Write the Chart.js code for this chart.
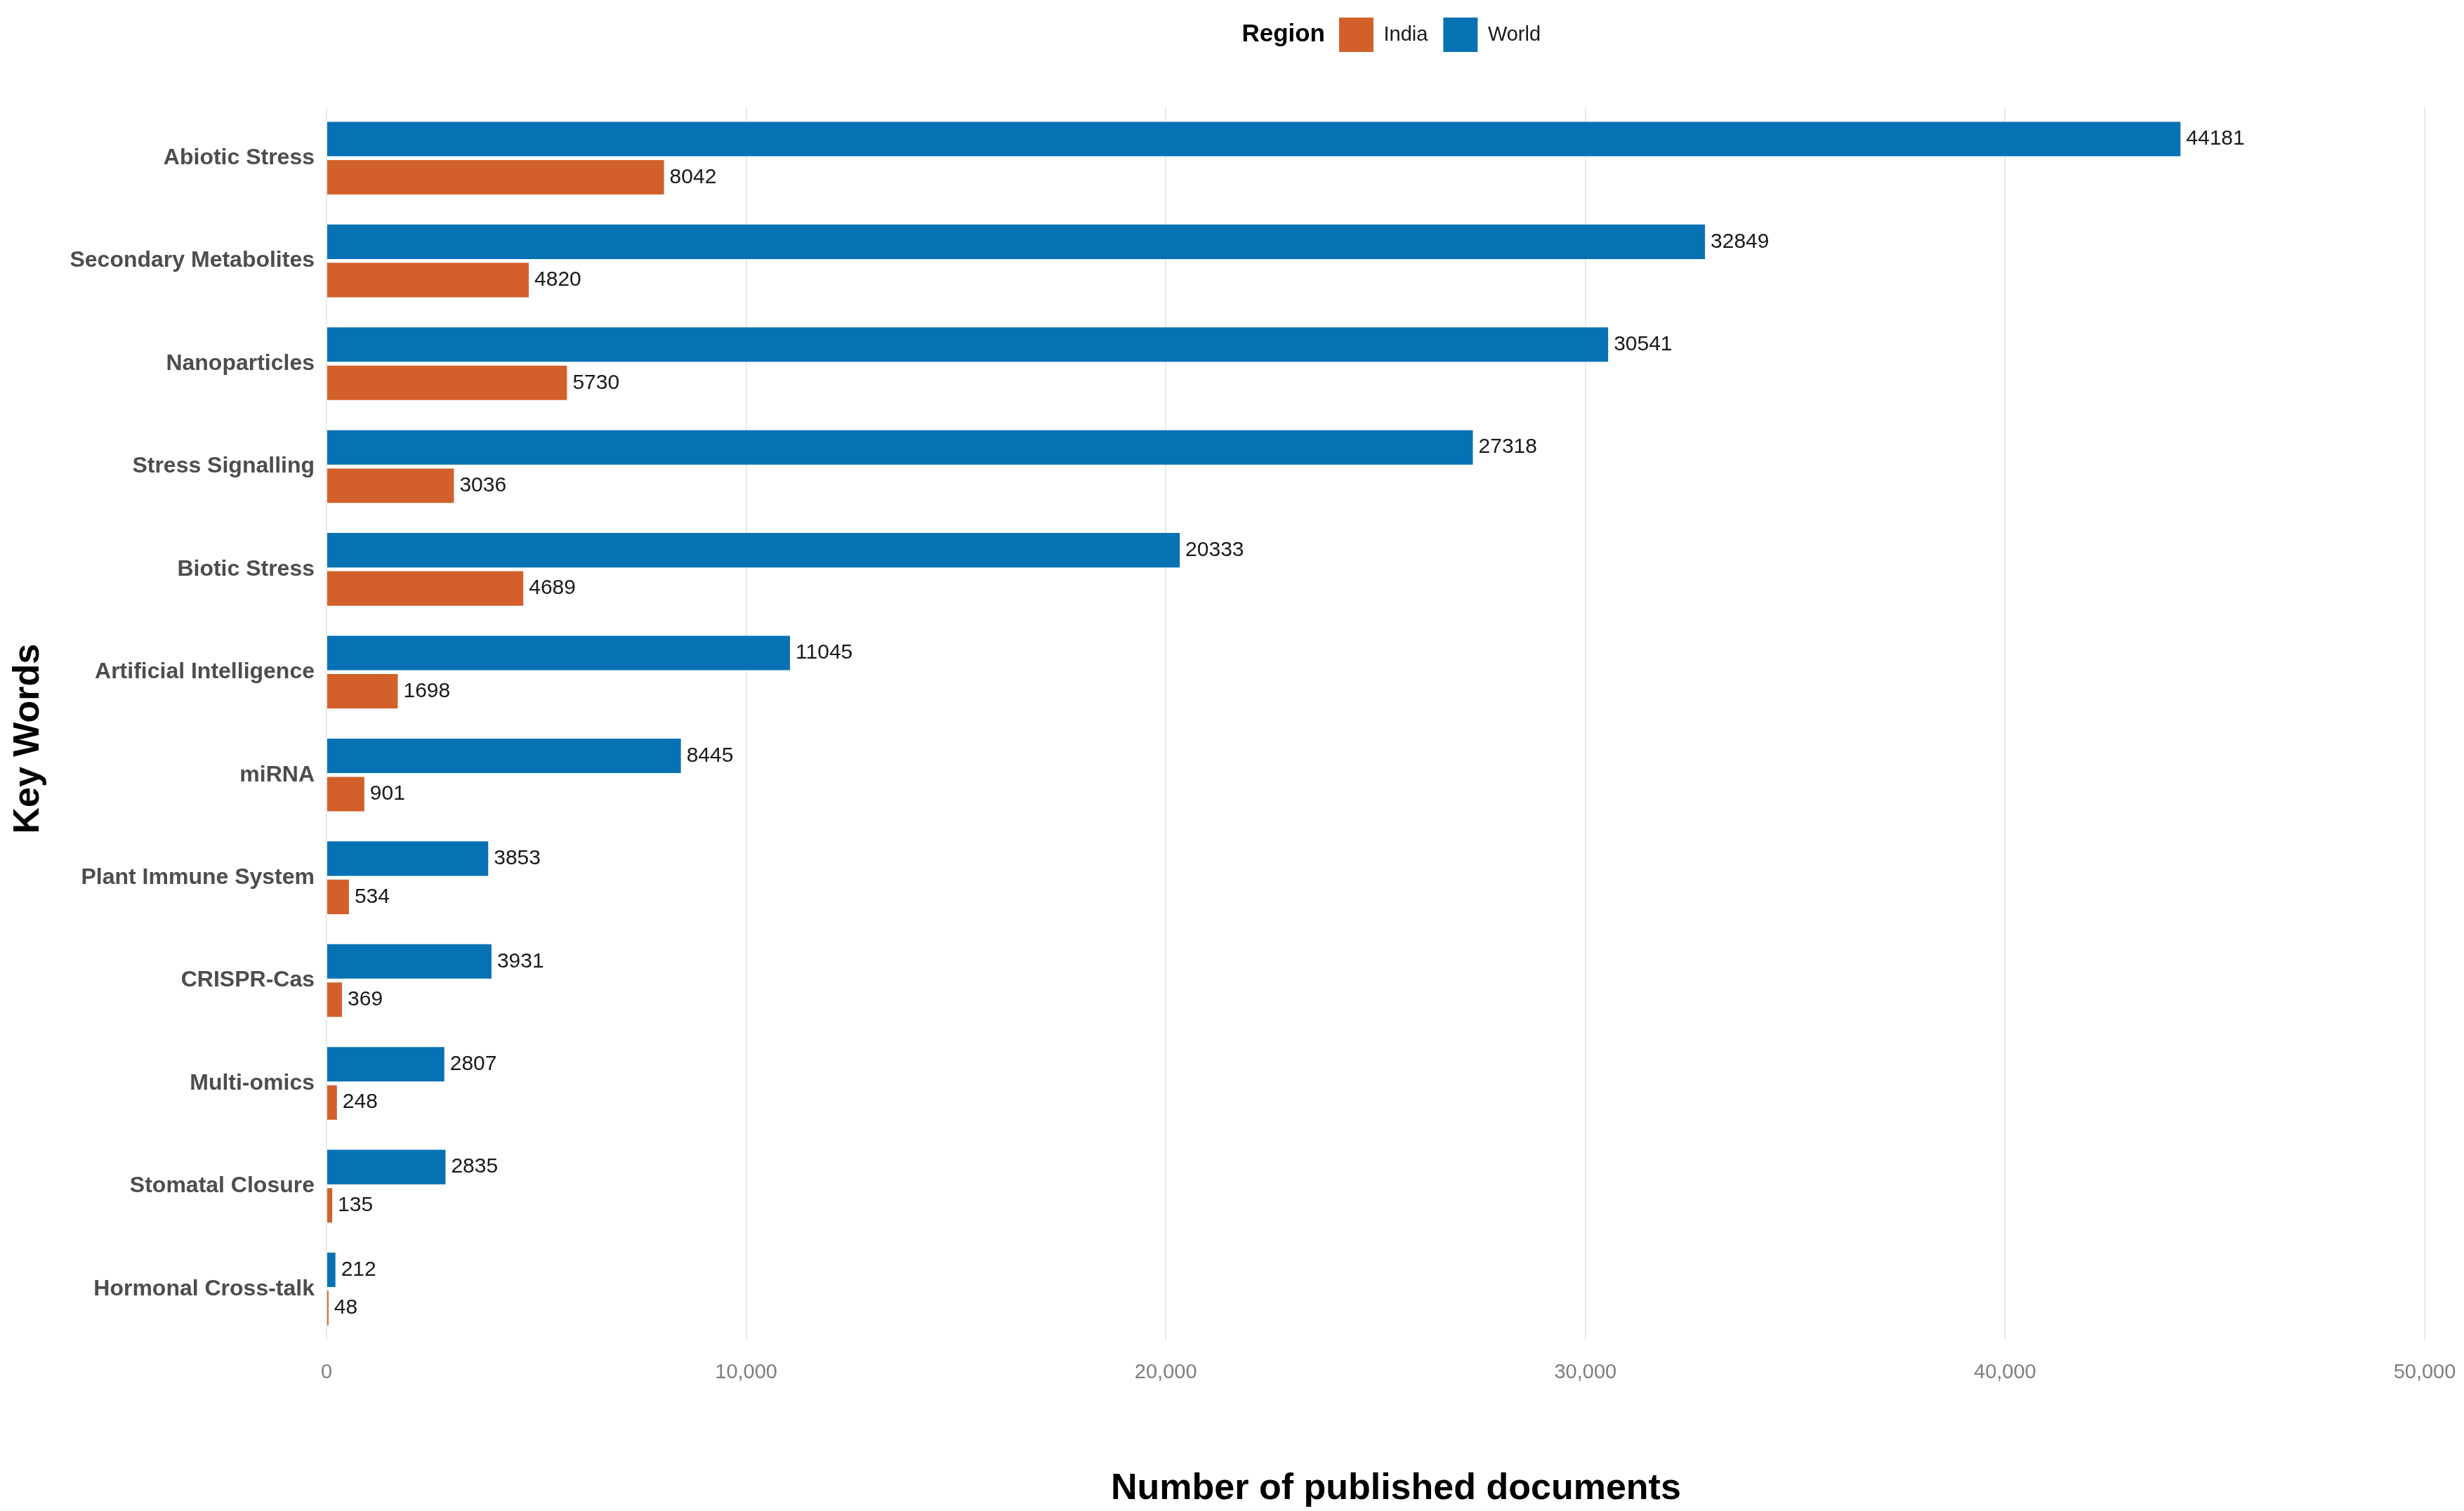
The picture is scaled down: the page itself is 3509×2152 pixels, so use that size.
<html lang="en">

<head>
    <meta charset="UTF-8">
    <title>Key words: India vs World</title>
    <script src="https://cdn.jsdelivr.net/npm/chart.js@4.4.1/dist/chart.umd.min.js"></script>
    <style>
        body { margin: 0; background: #ffffff; }
        #wrap { width: 3509px; height: 2152px; }
    </style>
</head>

<body>
    <div id="wrap"><canvas id="chart"></canvas></div>

    <script>
        // values
        const keywords = ['Abiotic Stress', 'Secondary Metabolites', 'Nanoparticles', 'Stress Signalling',
            'Biotic Stress', 'Artificial Intelligence', 'miRNA', 'Plant Immune System', 'CRISPR-Cas',
            'Multi-omics', 'Stomatal Closure', 'Hormonal Cross-talk'];
        const world = [44181, 32849, 30541, 27318, 20333, 11045, 8445, 3853, 3931, 2807, 2835, 212];
        const india = [8042, 4820, 5730, 3036, 4689, 1698, 901, 534, 369, 248, 135, 48];
        const xTicks = [0, 10000, 20000, 30000, 40000, 50000];

        const FONT = "'Liberation Sans', Arial, sans-serif";

        // push legend down / across and write the "Region" title before it
        const legendTweaks = {
            id: 'legendTweaks',
            beforeInit(chart) {
                const fit = chart.legend.fit;
                chart.legend.fit = function () {
                    fit.bind(chart.legend)();
                    this.height += 68;
                };
            },
            afterLayout(chart) {
                const lg = chart.legend;
                const w = lg.right - lg.left;
                lg.left = 1885;
                lg.right = 1885 + w;
            },
            afterDraw(chart) {
                const box = chart.legend.legendHitBoxes[0];
                if (!box) return;
                const ctx = chart.ctx;
                ctx.save();
                ctx.font = 'bold 35px ' + FONT;
                ctx.fillStyle = '#000000';
                ctx.textAlign = 'right';
                ctx.textBaseline = 'middle';
                ctx.fillText('Region', box.left - 20, box.top + box.height / 2);
                ctx.restore();
            }
        };

        // value labels at the end of each bar
        const barValues = {
            id: 'barValues',
            afterDatasetsDraw(chart) {
                const ctx = chart.ctx;
                ctx.save();
                ctx.font = '30px ' + FONT;
                ctx.fillStyle = '#1a1a1a';
                ctx.textAlign = 'left';
                ctx.textBaseline = 'middle';
                chart.data.datasets.forEach((ds, i) => {
                    chart.getDatasetMeta(i).data.forEach((bar, j) => {
                        ctx.fillText(String(ds.data[j]), bar.x + 8, bar.y);
                    });
                });
                ctx.restore();
            }
        };

        const ctx = document.getElementById('chart').getContext('2d');
        const myChart = new Chart(ctx, {
            type: 'bar',
            data: {
                labels: keywords,
                datasets: [{
                    label: 'World',
                    data: world,
                    backgroundColor: '#0772B3',
                    categoryPercentage: 0.745,
                    barPercentage: 0.9
                }, {
                    label: 'India',
                    data: india,
                    backgroundColor: '#D3602B',
                    categoryPercentage: 0.745,
                    barPercentage: 0.9
                }]
            },
            options: {
                indexAxis: 'y',
                responsive: true,
                maintainAspectRatio: false,
                animation: false,
                devicePixelRatio: 1,
                layout: { padding: { top: 3, right: 56, bottom: 0, left: 0 } },
                plugins: {
                    tooltip: { enabled: false },
                    legend: {
                        position: 'top',
                        align: 'start',
                        reverse: true,
                        labels: {
                            boxWidth: 49,
                            boxHeight: 49,
                            padding: 22,
                            color: '#1a1a1a',
                            font: { family: FONT, size: 29 }
                        }
                    }
                },
                scales: {
                    x: {
                        min: 0,
                        max: 50000,
                        afterBuildTicks: (scale) => {
                            scale.ticks = xTicks.map(v => ({ value: v }));
                        },
                        afterFit: (scale) => {
                            scale.height = 243;
                            scale.paddingRight = 0;
                            scale.paddingLeft = 0;
                        },
                        grid: { color: '#EBEBEB', lineWidth: 2, drawTicks: false },
                        border: { display: false },
                        ticks: {
                            padding: 29,
                            color: '#7F7F7F',
                            font: { family: FONT, size: 29 },
                            callback: (v) => Number(v).toLocaleString('en-US')
                        },
                        title: {
                            display: true,
                            text: '    Number of published documents',
                            color: '#000000',
                            font: { family: FONT, size: 52, weight: 'bold' },
                            padding: { top: 10, bottom: 0 }
                        }
                    },
                    y: {
                        afterFit: (scale) => { scale.width = 465; },
                        grid: { display: false, drawTicks: false },
                        border: { display: false },
                        ticks: {
                            padding: 17,
                            color: '#4D4D4D',
                            font: { family: FONT, size: 32, weight: 'bold' }
                        },
                        title: {
                            display: true,
                            text: 'Key Words   ',
                            color: '#000000',
                            font: { family: FONT, size: 52, weight: 'bold' },
                            padding: { top: 9, bottom: 0 }
                        }
                    }
                }
            },
            plugins: [legendTweaks, barValues]
        });
    </script>

</body>

</html>
